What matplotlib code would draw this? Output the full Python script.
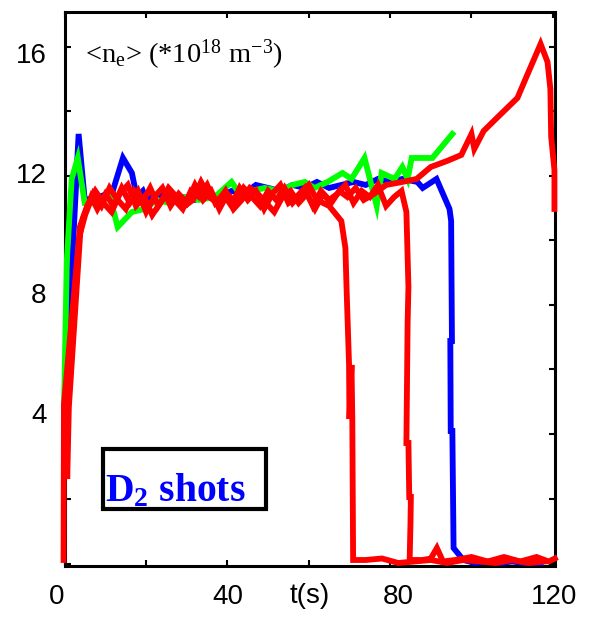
import matplotlib
matplotlib.use('Agg')
import matplotlib.pyplot as plt
import matplotlib.transforms as mtransforms
from matplotlib.patches import Rectangle

# density traces <n_e> (1e18 m^-3) vs time (s) as (t, value)
blue_shot = [(0.5, 3.0), (1.8, 9.0), (3.4, 13.3), (4.9, 11.1), (8.6, 11.2), (11.8, 11.4),
             (14.3, 12.5), (16.5, 12.0), (17.7, 11.2), (19.2, 11.4), (20.1, 11.1), (23, 11.3),
             (26, 11.0), (29, 11.2), (32, 11.1), (35, 11.3), (38, 11.2), (41, 11.4), (44, 11.3),
             (47, 11.6), (50, 11.5), (53, 11.4), (56, 11.6), (59, 11.5), (62, 11.7), (65, 11.5),
             (68, 11.6), (71, 11.7), (74, 11.6), (77, 11.8), (80, 11.7), (83, 11.8), (86.7, 11.7),
             (88, 11.5), (91.4, 11.8), (94.6, 10.8), (95.0, 10.4), (95.2, 6.4), (94.8, 6.4),
             (94.9, 3.4), (95.3, 3.4), (95.6, -0.5), (98, -0.9), (101, -1.0), (104, -0.95),
             (107, -1.0), (110, -0.95), (113, -1.0), (117, -1.0)]

green_shot = [(-0.2, 4.1), (0.5, 9.1), (1.7, 11.8), (3.2, 12.5), (4.9, 11.0), (6.6, 11.0),
              (11.1, 11.2), (13.0, 10.2), (16.5, 10.7), (19.7, 10.8), (22.5, 11.1), (25.8, 11.0),
              (29, 11.2), (33, 11.1), (36.9, 11.2), (41.0, 11.7), (43.0, 11.3), (46, 11.4),
              (49.1, 11.5), (53, 11.4), (56, 11.6), (59.0, 11.7), (61.4, 11.5), (64.6, 11.7),
              (68.3, 12.0), (70.5, 11.8), (73.7, 12.5), (76.7, 10.9), (77.9, 12.0), (81.1, 11.8),
              (83.0, 12.2), (84.3, 11.8), (85.3, 12.5), (90.4, 12.5), (95.3, 13.3)]

red_shot_1 = [(-0.3, -0.9), (-0.2, 4.3), (3.5, 9.8), (4.5, 10.5), (6.5, 11.2), (8, 10.8),
              (10, 11.3), (12, 10.9), (14, 11.5), (16, 11.0), (18, 11.4), (20, 10.7), (22, 11.2),
              (24, 11.5), (26, 10.9), (28, 11.3), (30, 11.0), (32, 11.6), (34, 11.1), (36, 11.4),
              (38, 10.8), (40, 11.3), (42, 11.0), (44, 11.5), (46, 11.2), (48, 10.9), (50, 11.4),
              (52, 11.1), (54, 11.5), (56, 11.0), (58, 11.3), (60, 11.6), (62, 11.1), (65, 10.9),
              (68, 10.4), (69, 9.5), (69.3, 8.1), (69.9, 5.6), (70.0, 3.8), (70.5, 5.6),
              (70.7, 3.8), (70.9, -0.9), (74, -0.9), (78, -0.85), (82, -1.0), (86, -0.95),
              (90, -0.9), (94, -1.0), (98, -0.9), (102, -0.95), (106, -1.0), (110, -0.9),
              (114, -1.0), (118, -0.95)]

red_shot_2 = [(0.2, 4.1), (0.6, 1.8), (1.0, 4.2), (3.8, 10.0), (5, 10.6), (7, 11.3), (9, 10.9),
              (11, 11.5), (13, 11.1), (15, 10.8), (17, 11.4), (19, 11.0), (21, 11.5), (23, 10.9),
              (25, 11.3), (27, 11.1), (29, 10.8), (31, 11.4), (33, 11.2), (35, 11.6), (37, 11.0),
              (39, 11.3), (41, 10.9), (43, 11.5), (45, 11.1), (47, 11.4), (49, 10.8), (51, 11.3),
              (53, 11.6), (55, 11.0), (57, 11.2), (59, 11.5), (61, 10.9), (63, 11.4), (65, 11.1),
              (67, 11.3), (69, 11.6), (71, 11.0), (73, 11.4), (75, 11.2), (77, 11.6), (79, 10.9),
              (81, 11.2), (82.8, 11.4), (84.0, 10.7), (84.5, 8.2), (84.3, 7.0), (84.0, 3.0),
              (84.5, 3.0), (84.7, 1.2), (85.1, 1.2), (85.0, 0.3), (84.8, -0.9), (88, -0.9),
              (90, -0.85), (91.5, -0.5), (93, -0.95), (96, -0.9), (100, -0.8), (104, -0.95),
              (108, -0.8), (112, -0.95), (116, -0.8), (119, -0.95), (120.5, -0.85)]

red_shot_3 = [(0.5, 4.5), (3.7, 10.2), (5.5, 10.9), (7.5, 11.4), (9.5, 11.0), (11.5, 10.7),
              (13.5, 11.3), (15.5, 11.6), (17.5, 10.9), (19.5, 11.2), (21.5, 10.6), (23.5, 11.0),
              (25.5, 11.5), (27.5, 11.2), (29.5, 10.9), (31.5, 11.1), (33.5, 11.7), (35.5, 11.2),
              (37.5, 11.0), (39.5, 11.4), (41.5, 10.8), (43.5, 11.1), (45.5, 11.5), (47.5, 11.3),
              (49.5, 11.0), (51.5, 10.7), (53.5, 11.2), (55.5, 11.4), (57.5, 11.0), (59.5, 11.3),
              (61.5, 10.8), (63.5, 11.3), (65.5, 11.0), (67.5, 11.4), (69.5, 11.2), (71.5, 11.5),
              (73.5, 11.1), (76, 11.3), (79, 11.6), (83, 11.7), (86.5, 11.8), (90, 12.2),
              (94, 12.4), (97.5, 12.6), (100, 13.3), (100.7, 12.8), (103, 13.4), (106, 13.8),
              (111.3, 14.5), (113.5, 15.2), (117, 16.3), (118.7, 15.7), (119.4, 14.8),
              (119.6, 13.2), (120.4, 12.1), (120.4, 10.8)]

y_labels = [4, 8, 12, 16]
x_labels = [0, 40, 80, 120]

plt.rcParams['font.family'] = ['Liberation Sans', 'DejaVu Sans']
plt.rcParams['mathtext.fontset'] = 'custom'
plt.rcParams['mathtext.rm'] = 'Liberation Serif'
plt.rcParams['mathtext.it'] = 'Liberation Serif:italic'
plt.rcParams['mathtext.bf'] = 'Liberation Serif:bold'

fig = plt.figure(figsize=(5.89, 6.23), dpi=100)
ax = fig.add_axes([0.110, 0.0915, 0.832, 0.8895])

for shot, col in [(blue_shot, '#0000ff'), (green_shot, '#00ff00'),
                  (red_shot_1, '#ff0000'), (red_shot_2, '#ff0000'), (red_shot_3, '#ff0000')]:
    t = [p[0] for p in shot]
    v = [p[1] for p in shot]
    ax.plot(t, v, color=col, lw=4.2, solid_joinstyle='miter', clip_on=False)

ax.set_xlim(0, 120.5)
ax.set_ylim(-1.1, 17.37)

# labels sit where the original put them, small tick marks on their own grid
ax.set_xticks(x_labels)
ax.set_xticks([20, 60, 100], minor=True)
ax.set_yticks(y_labels)
ax.set_yticks([-1.03, 1.13, 3.3, 5.45, 7.6, 9.75, 11.9, 14.05, 16.2], minor=True)
ax.tick_params(axis='both', which='major', labelsize=20, pad=13, direction='in',
               top=True, right=True)
ax.tick_params(axis='y', which='major', length=0)
ax.tick_params(axis='x', which='major', length=4, width=1.5)
ax.tick_params(which='minor', direction='in', length=4, width=1.5, top=True, right=True)
for sp in ax.spines.values():
    sp.set_linewidth(2.2)
    sp.set_zorder(1)

# the original's "0" and "80" labels are nudged off their ticks
xlabs = ax.get_xticklabels()
for lab, dx in zip(xlabs, [-8, 0, 8, 1]):
    off = mtransforms.ScaledTranslation(dx / 100, 0, fig.dpi_scale_trans)
    lab.set_transform(lab.get_transform() + off)

ax.set_xlabel('t(s)', fontsize=20, va='top')
ax.xaxis.set_label_coords(0.5, -0.03)

ax.text(0.041, 0.908, r'<n$_\mathrm{e}$> (*10$^{18}$ m$^{-3}$)', transform=ax.transAxes,
        fontsize=20.5, family='Liberation Serif', va='baseline')

ax.add_patch(Rectangle((0.078, 0.103), 0.332, 0.108, transform=ax.transAxes,
                       fill=False, ec='black', lw=3, zorder=5))
ax.text(0.082, 0.117, r'D$_\mathbf{2}$ shots', transform=ax.transAxes, fontsize=28.5,
        family='Liberation Serif', weight='bold', color='#0000ff', va='baseline', zorder=6)

fig.savefig('out.png', dpi=100)
